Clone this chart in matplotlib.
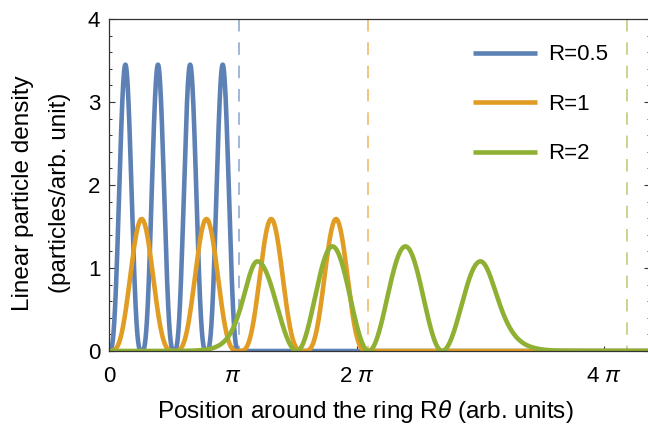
import numpy as np
import matplotlib
matplotlib.use("Agg")
import matplotlib.pyplot as plt
from matplotlib.ticker import MultipleLocator

plt.rcParams['font.family'] = ['Liberation Sans', 'DejaVu Sans']
plt.rcParams['mathtext.fontset'] = 'custom'
plt.rcParams['mathtext.rm'] = 'Liberation Sans'
plt.rcParams['mathtext.it'] = 'Liberation Sans:italic'

# ---------------- data ----------------
series_labels = ['R=0.5', 'R=1', 'R=2']
series_colors = ['#5E81B5', '#E19C24', '#8FB032']
dash_colors = ['#93AAD0', '#EDBB6A', '#BAD07C']
ring_lengths = [np.pi, 2 * np.pi, 4 * np.pi]       # dashed markers at 2*pi*R

# the reference places its pi-labels at x = 0, 3, 6, 12
xtick_values = [0, 3, 6, 12]
xtick_labels = ['0', r'$\pi$', r'$2\ \pi$', r'$4\ \pi$']
ytick_values = [0, 1, 2, 3, 4]

# peak descriptions: centre, height, half-width to the left / right
blue_centers = [0.39, 1.18, 1.96, 2.75]
blue_heights = [3.45, 3.45, 3.45, 3.45]
blue_left = [0.39, 0.39, 0.39, 0.39]
blue_right = [0.39, 0.39, 0.39, 0.39]
blue_left_tail = [False, False, False, False]
blue_right_tail = [False, False, False, False]
blue_power = 3.0

orange_centers = [0.785, 2.356, 3.927, 5.498]
orange_heights = [1.59, 1.59, 1.59, 1.59]
orange_left = [0.785, 0.785, 0.785, 0.785]
orange_right = [0.785, 0.785, 0.785, 0.785]
orange_left_tail = [False, False, False, False]
orange_right_tail = [False, False, False, False]
orange_power = 3.5

green_centers = [3.59, 5.41, 7.18, 9.00]
green_heights = [1.08, 1.26, 1.26, 1.08]
green_left = [0.45, 0.86, 0.89, 0.93]
green_right = [0.96, 0.88, 0.89, 0.55]
green_left_tail = [True, False, False, False]
green_right_tail = [False, False, False, True]
green_power = 2.0

x_max = 13.10
y_max = 4.0


def side_shape(d, w, power, tail):
    if tail:
        return 1.0 / np.cosh(d / w) ** 2
    dd = np.clip(d / w, 0, 1)
    return np.where(d < w, np.cos(np.pi * dd / 2) ** power, 0.0)


def density(x, centers, heights, lefts, rights, ltail, rtail, power):
    y = np.zeros_like(x)
    for c, h, wl, wr, tl, tr in zip(centers, heights, lefts, rights, ltail, rtail):
        d = x - c
        left = np.where(d < 0, side_shape(-d, wl, power, tl), 0.0)
        right = np.where(d >= 0, side_shape(d, wr, power, tr), 0.0)
        y += h * (left + right)
    return y


x = np.linspace(0, x_max, 5000)
curves = [
    density(x, blue_centers, blue_heights, blue_left, blue_right,
            blue_left_tail, blue_right_tail, blue_power),
    density(x, orange_centers, orange_heights, orange_left, orange_right,
            orange_left_tail, orange_right_tail, orange_power),
    density(x, green_centers, green_heights, green_left, green_right,
            green_left_tail, green_right_tail, green_power),
]

# ---------------- figure ----------------
W, H = 648, 428
fig = plt.figure(figsize=(W / 100, H / 100), dpi=100)
ax_left, ax_right, ax_top, ax_bot = 109.3, 649.5, 19.0, 351.0
ax = fig.add_axes([ax_left / W, 1 - ax_bot / H, (ax_right - ax_left) / W,
                   (ax_bot - ax_top) / H])

for xv, col in zip(ring_lengths, dash_colors):
    ax.plot([xv, xv], [y_max, 0], color=col, lw=1.2,
            linestyle=(0, (7.5, 6.5)), zorder=1)

lines = []
for y, col, lab in zip(curves, series_colors, series_labels):
    ln, = ax.plot(x, y, color=col, lw=3.3, label=lab, zorder=2,
                  solid_capstyle='butt')
    lines.append(ln)

ax.set_xlim(0, x_max)
ax.set_ylim(0, y_max)

ax.set_xticks(xtick_values)
ax.set_xticklabels(xtick_labels)
ax.set_yticks(ytick_values)
ax.yaxis.set_minor_locator(MultipleLocator(0.2))

spine_col = '#333333'
for s in ax.spines.values():
    s.set_color(spine_col)
    s.set_linewidth(0.9)

ax.tick_params(axis='y', which='major', direction='in', length=4.5, width=0.8,
               color=spine_col, labelsize=16, pad=6.5, right=True, left=True)
ax.tick_params(axis='y', which='minor', direction='in', length=2.5, width=0.7,
               color=spine_col, right=True, left=True)
ax.tick_params(axis='x', which='major', direction='in', length=3.5, width=0.8,
               color=spine_col, labelsize=16, pad=22.5)
for lab in ax.get_xticklabels():
    lab.set_verticalalignment('baseline')

fig.text(365.5 / W, 1 - 418.3 / H, r'Position around the ring R$\theta$ (arb. units)',
         ha='center', va='baseline', fontsize=17.5)
fig.text(29 / W, 1 - 193.3 / H, 'Linear particle density', rotation=90,
         rotation_mode='anchor', ha='center', va='baseline', fontsize=17.5)
fig.text(66 / W, 1 - 193.3 / H, '(particles/arb. unit)', rotation=90,
         rotation_mode='anchor', ha='center', va='baseline', fontsize=17.5)

ax.legend(handles=lines, loc='upper left', frameon=False, fontsize=16,
          handlelength=2.88, handletextpad=0.5, labelspacing=1.28,
          borderpad=0, borderaxespad=0,
          bbox_to_anchor=(473 / W, 1 - 44.5 / H), bbox_transform=fig.transFigure)

fig.savefig('out.png', dpi=100)
